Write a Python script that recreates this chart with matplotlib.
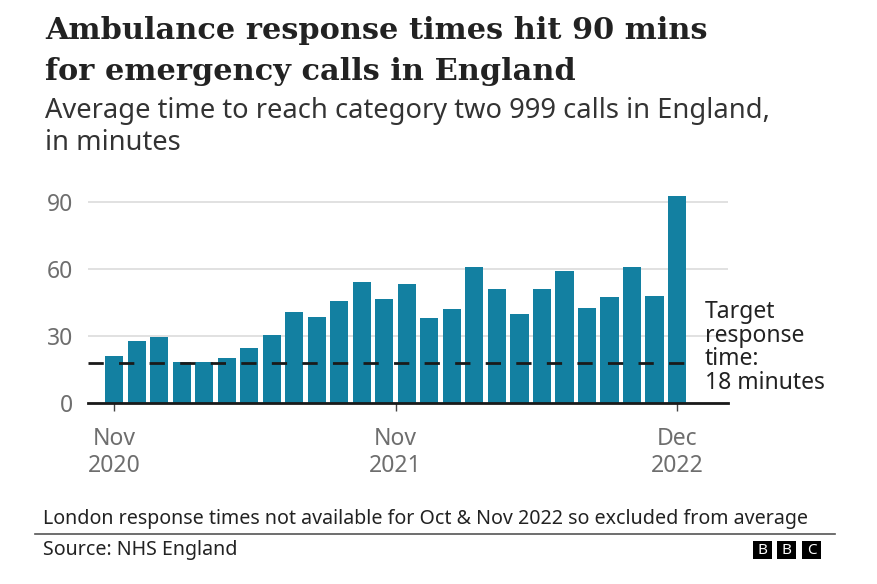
import numpy as np
import matplotlib
matplotlib.use("Agg")
import matplotlib.pyplot as plt
from matplotlib.patches import Rectangle

# data - average category 2 response time (minutes), Nov 2020 .. Dec 2022
months = ["Nov 2020", "Dec 2020", "Jan 2021", "Feb 2021", "Mar 2021", "Apr 2021",
          "May 2021", "Jun 2021", "Jul 2021", "Aug 2021", "Sep 2021", "Oct 2021",
          "Nov 2021", "Dec 2021", "Jan 2022", "Feb 2022", "Mar 2022", "Apr 2022",
          "May 2022", "Jun 2022", "Jul 2022", "Aug 2022", "Sep 2022", "Oct 2022",
          "Nov 2022", "Dec 2022"]
minutes = [21.1, 27.5, 29.6, 18.2, 18.2, 20.1, 24.4, 30.4, 40.8, 38.5, 45.4, 53.9,
           46.4, 53.1, 37.9, 42.0, 60.8, 51.0, 39.7, 51.1, 58.8, 42.4, 47.6, 61.0,
           47.9, 92.7]
target = 18
y_ticks = [0, 30, 60, 90]
x_tick_pos = [0, 12.5, 25]
x_tick_labels = ["Nov\n2020", "Nov\n2021", "Dec\n2022"]

W, H = 878, 584
SANS = ["Noto Sans", "DejaVu Sans"]
SERIF = ["DejaVu Serif"]
BAR = "#1380A1"
GREY = "#6e6e6e"
DARK = "#222222"

fig = plt.figure(figsize=(W / 100, H / 100), dpi=100)
fig.patch.set_facecolor("white")

def fx(px):
    return px / W

def fy(py):
    return 1 - py / H

# axes placed in pixels of the reference
ax = fig.add_axes([fx(88), fy(403), fx(728) - fx(88), (403 - 190.5) / H])

x = np.arange(len(minutes))
ax.bar(x, minutes, width=0.81, color=BAR, zorder=2)
ax.set_xlim(-1.17, 27.27)
ax.set_ylim(0, 95)

# target line
ax.plot([-1.17, len(minutes) - 1 + 0.85], [target, target], color="#1a1a1a",
        lw=2, dashes=(5.5, 5.5), zorder=3)

ax.set_yticks(y_ticks)
ax.set_yticklabels([str(v) for v in y_ticks], family=SANS, fontsize=16.5, color=GREY)
ax.tick_params(axis="y", length=0, pad=11)
ax.set_xticks(x_tick_pos)
ax.set_xticklabels(x_tick_labels, family=SANS, fontsize=16.5, color=GREY, linespacing=1.2)
ax.tick_params(axis="x", length=6, width=1, color="#444444", pad=11)

ax.grid(axis="y", color="#dcdcdc", lw=1.2, zorder=0)
for s in ["top", "right", "left"]:
    ax.spines[s].set_visible(False)
ax.spines["bottom"].set_color("#1a1a1a")
ax.spines["bottom"].set_linewidth(2)
ax.spines["bottom"].set_zorder(4)

# multi-line baseline alignment uses the last line
fig.text(fx(705), fy(389), "Target\nresponse\ntime:\n18 minutes", family=SANS,
         fontsize=16.5, color=DARK, va="baseline", ha="left", linespacing=0.98)

# titles, sized to the widths in the reference
renderer = fig.canvas.get_renderer()

def fit(t, width_px):
    w = t.get_window_extent(renderer).width
    t.set_fontsize(t.get_fontsize() * width_px / w)
    return t.get_fontsize()

t1 = fig.text(fx(45), fy(39), "Ambulance response times hit 90 mins", family=SERIF,
              weight="bold", fontsize=22, color=DARK, va="baseline")
size = fit(t1, 662)
fig.text(fx(45), fy(80), "for emergency calls in England", family=SERIF,
         weight="bold", fontsize=size, color=DARK, va="baseline")

s1 = fig.text(fx(45), fy(118), "Average time to reach category two 999 calls in England,",
              family=SANS, fontsize=17, color="#333333", va="baseline")
size = fit(s1, 723)
fig.text(fx(45), fy(150), "in minutes", family=SANS, fontsize=size,
         color="#333333", va="baseline")

f1 = fig.text(fx(43), fy(524),
              "London response times not available for Oct & Nov 2022 so excluded from average",
              family=["Liberation Sans Narrow"] + SANS, fontsize=13, color=DARK, va="baseline")
size = fit(f1, 766)
fig.text(fx(43), fy(555), "Source: NHS England", family=["Liberation Sans Narrow"] + SANS,
         fontsize=size, color=DARK, va="baseline")

fig.add_artist(plt.Line2D([fx(35), fx(835)], [fy(534), fy(534)], color="#555555", lw=1.2))

# BBC blocks
for i, letter in enumerate("BBC"):
    left = 753 + i * 24.5
    fig.add_artist(Rectangle((fx(left), fy(559)), fx(19), (559 - 541) / H,
                             facecolor="black", edgecolor="none"))
    fig.text(fx(left + 9.5), fy(550), letter, family=SANS, weight="bold",
             fontsize=11, color="white", ha="center", va="center")

fig.savefig("out.png", dpi=100)
